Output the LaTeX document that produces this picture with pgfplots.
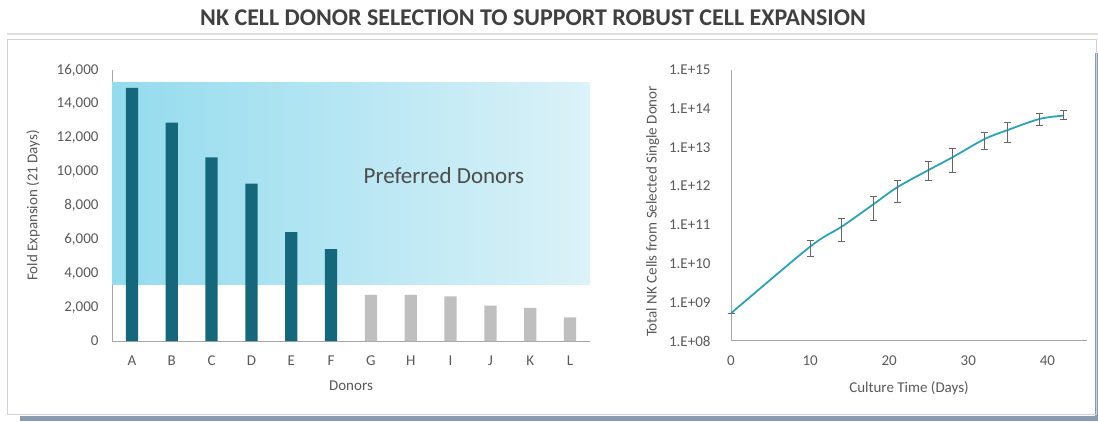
\documentclass[border=0pt]{standalone}
\usepackage{pgfplots}
\pgfplotsset{compat=1.18}
\usepackage{fontspec}
\setmainfont{Carlito}
\definecolor{txt}{HTML}{595959}
\definecolor{bardark}{HTML}{15677B}
\definecolor{bargray}{HTML}{BFBFBF}
\definecolor{shadeL}{HTML}{93DBEE}
\definecolor{shadeR}{HTML}{DBF2F8}
\definecolor{linecol}{HTML}{2AA3B8}
\definecolor{framecol}{HTML}{CDD3DA}
\definecolor{shadow}{HTML}{8C9CB0}
\pgfplotstableread{
x c plus minus
0  5.2e8  0 0
10 2.735e10 1.18e10 1.25e10
14 8.995e10 5.2e10 5.3e10
18 3.396e11 1.97e11 2.08e11
21 9.33e11 4.86e11 5.57e11
25 2.624e12 1.59e12 1.26e12
28 5.572e12 3.57e12 3.38e12
32 1.626e13 7.9e12 7.65e12
35 2.831e13 1.54e13 1.53e13
39 5.445e13 2.19e13 1.85e13
42 6.637e13 2.13e13 1.50e13
}\growth
\begin{document}
\begin{tikzpicture}
\useasboundingbox (0pt,0pt) rectangle (1098pt,421pt);
% frame
\fill[shadow] (20pt,0pt) rectangle (1098pt,5pt);
\fill[shadow] (1095pt,5pt) rectangle (1098pt,368pt);
\draw[framecol,line width=1pt] (7pt,7pt) rectangle (1096pt,381pt);
\draw[gray!25,line width=1.5pt] (7pt,387pt) -- (1098pt,387pt);
\node[font=\bfseries\fontsize{24}{26}\selectfont, text=black!75] at (533pt,403pt) {NK CELL DONOR SELECTION TO SUPPORT ROBUST CELL EXPANSION};
\pgfplotsset{
  every axis/.append style={
    scale only axis,
    axis line style={gray!70, line width=1pt},
    tick style={draw=none},
    major tick length=0pt,
    tick label style={font=\fontsize{15}{17}\selectfont, text=txt},
    label style={font=\fontsize{15}{17}\selectfont, text=txt},
    axis x line*=bottom, axis y line*=left,
    x axis line style={-}, y axis line style={-},
  }
}
\begin{axis}[
  at={(112pt,80pt)}, anchor=south west,
  width=478pt, height=271pt,
  xmin=-0.5, xmax=11.5, ymin=0, ymax=16000,
  xtick={0,...,11},
  xticklabels={A,B,C,D,E,F,G,H,I,J,K,L},
  ytick={0,2000,...,16000},
  yticklabel style={xshift=-10pt, /pgf/number format/1000 sep={,}, /pgf/number format/assume math mode=true},
  xticklabel style={yshift=-11pt},
  scaled y ticks=false,
  xlabel={Donors},
  xlabel style={yshift=-9pt},
  ylabel={Fold Expansion (21 Days)},
  ylabel style={yshift=10pt},
  clip=false,
]
\fill[left color=shadeL, right color=shadeR] (axis cs:-0.5,3365) rectangle (axis cs:11.5,15290);
\addplot[ybar, bar width=12.3pt, bar shift=0pt, fill=bardark, draw=none] coordinates {
(0,14950) (1,12890) (2,10845) (3,9290) (4,6435) (5,5430)};
\addplot[ybar, bar width=12.3pt, bar shift=0pt, fill=bargray, draw=none] coordinates {
(6,2716) (7,2716) (8,2640) (9,2085) (10,1950) (11,1400)};
\node[font=\fontsize{23}{25}\selectfont, text=black!70] at (axis cs:7.83,9740) {Preferred Donors};
\end{axis}
\begin{axis}[
  at={(731pt,80pt)}, anchor=south west,
  width=356pt, height=271pt,
  xmin=0, xmax=45, ymode=log, ymin=1e8, ymax=1e15,
  xtick={0,10,20,30,40},
  ytick={1e8,1e9,1e10,1e11,1e12,1e13,1e14,1e15},
  yticklabels={1.E+08,1.E+09,1.E+10,1.E+11,1.E+12,1.E+13,1.E+14,1.E+15},
  xticklabel style={yshift=-11pt, /pgf/number format/assume math mode=true},
  yticklabel style={xshift=-17pt},
  log basis y=10,
  xlabel={Culture Time (Days)},
  xlabel style={yshift=-9pt},
  ylabel={Total NK Cells from Selected Single Donor},
  ylabel style={yshift=3pt, xshift=-6pt},
  clip=false,
]
\addplot[linecol, line width=1.8pt, smooth, no marks] table[x=x,y=c] {\growth};
\addplot[draw=none, no marks, error bars/.cd, y dir=both, y explicit,
  error bar style={black!60, line width=1pt},
  error mark options={rotate=90, mark size=3.5pt, line width=1pt, black!60}]
  table[x=x, y=c, y error plus=plus, y error minus=minus] {\growth};
\end{axis}
\end{tikzpicture}
\end{document}
